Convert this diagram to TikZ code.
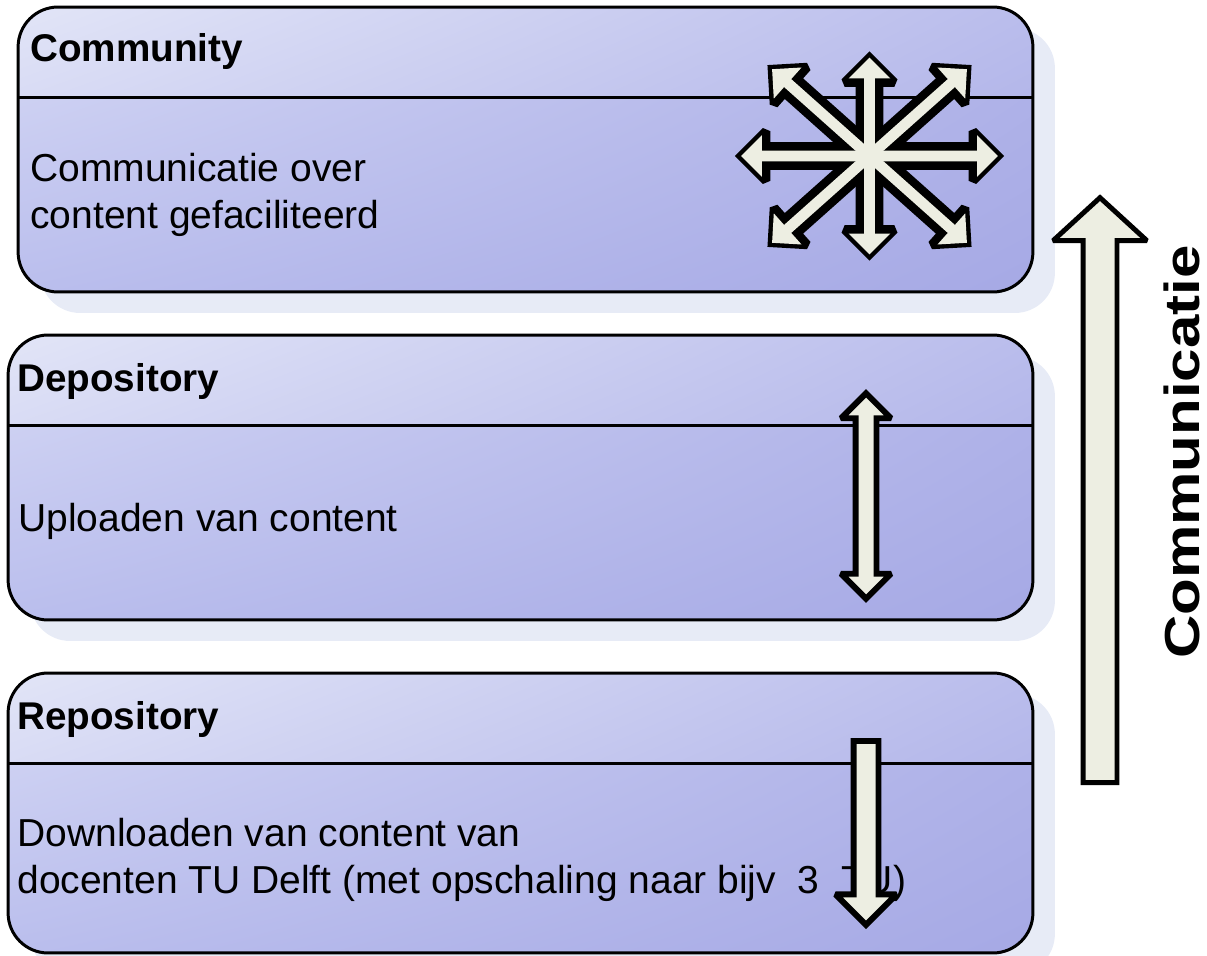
\documentclass[tikz,border=0pt]{standalone}
\usepackage{fontspec}
\setsansfont{Liberation Sans}
\newfontfamily\stretchfont{Liberation Sans}[FakeStretch=1.22]
\usepackage{tikz}
\usetikzlibrary{arrows.meta, positioning, shapes.arrows, shadows, shadings}

\definecolor{hdTL}{RGB}{226,229,247}
\definecolor{hdTR}{RGB}{186,189,236}
\definecolor{hdBL}{RGB}{196,199,239}
\definecolor{hdBR}{RGB}{166,169,229}
\definecolor{bdTL}{RGB}{214,217,245}
\definecolor{bdTR}{RGB}{178,181,233}
\definecolor{bdBL}{RGB}{186,190,237}
\definecolor{bdBR}{RGB}{166,169,229}
\definecolor{shdw}{RGB}{231,235,246}
\definecolor{ivory}{RGB}{237,238,226}

\begin{document}
\begin{tikzpicture}[
                x=0.02cm, y=-0.02cm,
                font=\sffamily,
                layer/.style={draw, line width=1.7pt, rounded corners=0.8cm, inner sep=0,
                    minimum height=5.7cm,
                    upper left=bdTL, upper right=bdTR, lower left=bdBL, lower right=bdBR,
                    drop shadow={shadow xshift=0.44cm, shadow yshift=-0.42cm, fill=shdw, opacity=1},
                    path picture={
                        \shade[sharp corners, upper left=hdTL, upper right=hdTR, lower left=hdBL, lower right=hdBR]
                            (path picture bounding box.north west) rectangle ([yshift=-1.8cm]path picture bounding box.north east);
                        \draw[sharp corners, line width=1.7pt]
                            ([yshift=-1.8cm]path picture bounding box.north west) -- ([yshift=-1.8cm]path picture bounding box.north east);
                    }},
                title/.style={anchor=base west, inner sep=0, font=\sffamily\bfseries\fontsize{22}{26}\selectfont},
                body/.style={anchor=base west, inner sep=0, font=\sffamily\fontsize{22.2}{26}\selectfont},
                starrow/.style={double arrow, double arrow tip angle=90, inner xsep=0, inner ysep=0.1cm,
                    double arrow head extend=0.31cm, miter limit=1.5},
                arrow/.style={draw, line width=3.4pt, fill=ivory, inner xsep=0, miter limit=1.5}]

            % Lagen
            \node[layer, minimum width=20.3cm] (com) at (525.5,149.5) {};
            \node[layer, minimum width=20.5cm] (dep) at (520.5,477.5) {};
            \node[layer, minimum width=20.5cm, minimum height=5.6cm] (rep) at (520.5,813) {};

            \node[title] (comT) at (30,62) {Community};
            \node[body] (comA) at (30,182) {Communicatie over};
            \node[body] (comB) at (30,229) {content gefaciliteerd};

            \node[title] (depT) at (17,391) {Depository};
            \node[body] (depA) at (18,531) {Uploaden van content};

            \node[title] (repT) at (17,729) {Repository};
            \node[body] (repA) at (17,846) {Downloaden van content van};
            \node[body] (repB) at (17,893) {docenten TU Delft (met opschaling naar bijv\ \ 3\ \ TU)};

            % Ster
            \foreach \ang/\len [count=\i] in {41.7/5.22, -41.7/5.22, 90/3.94, 0/5.14}
                \node[starrow, draw, line width=5pt, fill=black, minimum height=\len cm, rotate=\ang] (star\i) at (869.5,156) {};
            \foreach \ang/\len in {41.7/5.22, -41.7/5.22, 90/3.94, 0/5.14}
                \node[starrow, fill=ivory, minimum height=\len cm, rotate=\ang] at (869.5,156) {};

            % Pijlen
            \node[arrow, double arrow, double arrow tip angle=90, inner ysep=0.15cm, double arrow head extend=0.29cm,
                minimum height=4.11cm, rotate=90] (up) at (866,496) {};
            \node[arrow, single arrow, single arrow tip angle=90, inner ysep=0.19cm, single arrow head extend=0.36cm,
                minimum height=3.68cm, rotate=-90, anchor=tail] (down) at (866,738) {};
            \node[arrow, line width=2.8pt, single arrow, single arrow tip angle=95, inner ysep=0.29cm, single arrow head extend=0.6cm,
                minimum height=11.7cm, rotate=90, anchor=tail] (comm) at (1100,785) {};
            \node[rotate=90, anchor=base, inner sep=0, font=\stretchfont\bfseries\fontsize{28}{30}\selectfont] (commT) at (1199,452) {Communicatie};

            \useasboundingbox (0,0) rectangle (1207,956);
        \end{tikzpicture}
\end{document}
